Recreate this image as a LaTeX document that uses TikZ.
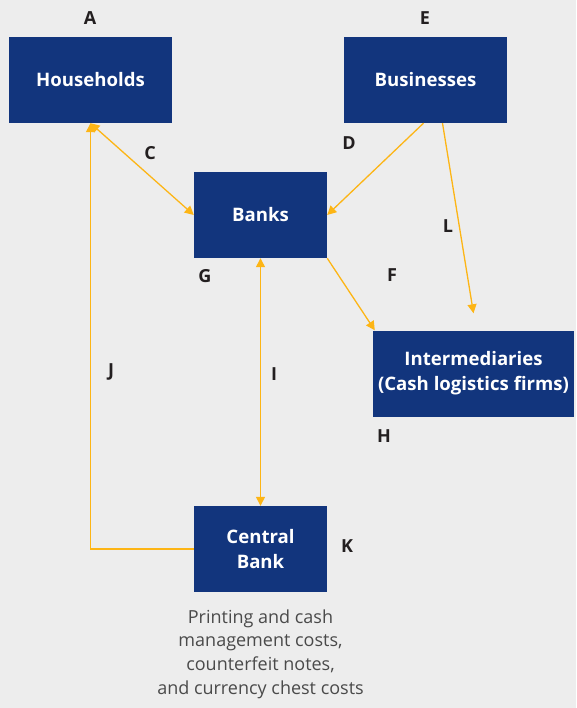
\documentclass[tikz,border=0pt]{standalone}
\usepackage{fontspec}
\setmainfont{Open Sans}
\usetikzlibrary{arrows.meta,calc}
\definecolor{bgc}{HTML}{EDEDED}
\definecolor{navy}{HTML}{12357D}
\definecolor{flow}{HTML}{FDB515}
\definecolor{lbl}{HTML}{231F20}
\definecolor{cap}{HTML}{4A4A4A}
\tikzset{
  box/.style={fill=navy, text=white, inner sep=0pt, minimum height=86pt, align=center,
    font=\fontsize{18.6}{25}\selectfont\bfseries},
  letter/.style={text=lbl, inner sep=0pt, font=\fontsize{18}{20}\selectfont\bfseries},
  conn/.style={draw=flow, line width=1.3pt},
  tip/.style={-{Triangle[length=9pt,width=9pt]}},
  tips/.style={{Triangle[length=9pt,width=9pt]}-{Triangle[length=9pt,width=9pt]}}
}
\begin{document}
\begin{tikzpicture}[x=1pt,y=-1pt]
\fill[bgc] (0,0) rectangle (576,708);
\useasboundingbox (0,0) rectangle (576,708);
\node[box, minimum width=163pt] (hh) at (90.5,80) {Households};
\node[box, minimum width=163pt] (bus) at (425.5,80) {Businesses};
\node[box, minimum width=133pt] (banks) at (260.5,215) {Banks};
\node[box, minimum width=201pt] (inter) at (473.5,373.5) {Intermediaries\\(Cash logistics firms)};
\node[box, minimum width=133pt] (cb) at (260.5,549) {Central\\Bank};
\node[text=cap, align=center, inner sep=0pt, font=\fontsize{18}{23.7}\selectfont] (caption) at (260.5,654) {Printing and cash\\management costs,\\counterfeit notes,\\and currency chest costs};
\coordinate (Lend) at ([yshift=17pt]inter.north);
\draw[conn, tips] (hh.south) -- (banks.west);
\draw[conn, tip] ([xshift=-2pt]bus.south) -- (banks.east);
\draw[conn, tip] ([xshift=17pt]bus.south) -- (Lend);
\draw[conn, tip] (banks.south east) -- ([xshift=2pt]inter.north west);
\draw[conn, tips] (banks.south) -- (cb.north);
\draw[conn, tip] (cb.west) -| (hh.south);
\node[letter] (A) at (90,18) {A};
\node[letter] (E) at (425,18) {E};
\node[letter] (C) at (150,153) {C};
\node[letter] (D) at (349,143) {D};
\node[letter] (L) at (448,226) {L};
\node[letter] (G) at (205,276) {G};
\node[letter] (F) at (392,275) {F};
\node[letter] (H) at (384,436) {H};
\node[letter] (I) at (274,374) {I};
\node[letter] (J) at (111,372) {J};
\node[letter] (K) at (347,546) {K};
\end{tikzpicture}
\end{document}
